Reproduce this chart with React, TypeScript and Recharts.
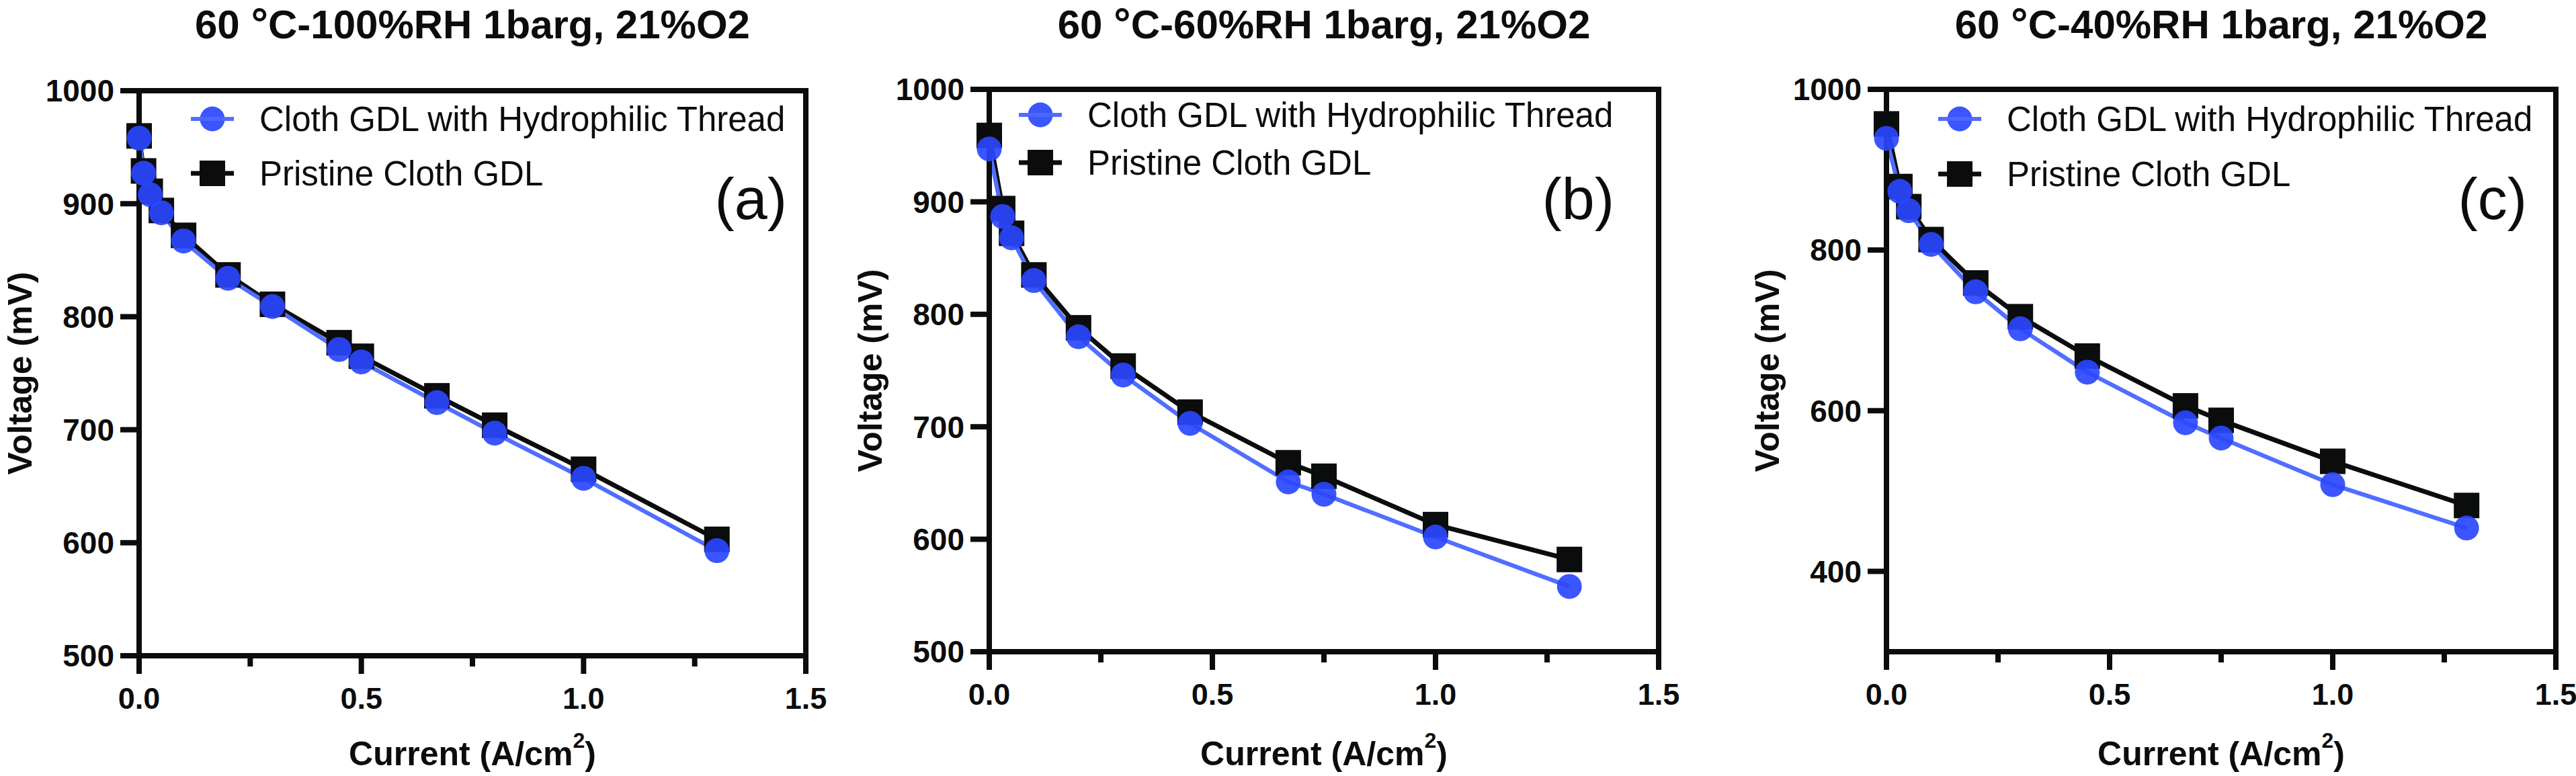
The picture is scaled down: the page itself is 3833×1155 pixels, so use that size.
import React from 'react';
import { LineChart, Line, XAxis, YAxis, ReferenceArea } from 'recharts';

const FONT = '"Liberation Sans", Arial, Helvetica, sans-serif';
const INK = '#0b0c0c';
const BLUE = '#2a46ff';
const BLUE_LINE = '#3a5cff';

// (a) 60 °C, 100 %RH
const currentA = [0, 0.01, 0.025, 0.05, 0.1, 0.2, 0.3, 0.45, 0.5, 0.67, 0.8, 1.0, 1.3];
const threadA = [958, 927, 908, 892, 867, 834, 809, 771, 760, 724, 697, 657, 593];
const pristineA = [960, 929, 911, 894, 872, 837, 811, 777, 765, 730, 704, 665, 603];

// (b) 60 °C, 60 %RH
const currentB = [0, 0.03, 0.05, 0.1, 0.2, 0.3, 0.45, 0.67, 0.75, 1.0, 1.3];
const threadB = [947, 887, 868, 830, 780, 746, 703, 651, 640, 602, 558];
const pristineB = [959, 894, 872, 835, 788, 754, 713, 668, 656, 613, 582];

// (c) 60 °C, 40 %RH
const currentC = [0, 0.03, 0.05, 0.1, 0.2, 0.3, 0.45, 0.67, 0.75, 1.0, 1.3];
const threadC = [939, 873, 849, 807, 748, 702, 648, 585, 566, 508, 454];
const pristineC = [957, 879, 854, 813, 759, 717, 668, 606, 588, 537, 482];

const xTicks = [0, 0.25, 0.5, 0.75, 1.0, 1.25, 1.5];
const yTicksAB = [500, 600, 700, 800, 900, 1000];
const yTicksC = [400, 600, 800, 1000];
const seriesNames = ['Cloth GDL with Hydrophilic Thread', 'Pristine Cloth GDL'];

const H = 1155;
const Y_AXIS_W = 120;
const X_AXIS_H = 100;

const panels = [
  {
    letter: 'a', rh: '100%RH', current: currentA, thread: threadA, pristine: pristineA,
    yDomain: [500, 1000], yTicks: yTicksAB,
    left: 0, width: 1250, plot: { l: 207, r: 1199, t: 135, b: 976 },
    legend: { x: 316, y: 177, gap: 81 }, letterRight: 1171,
  },
  {
    letter: 'b', rh: '60%RH', current: currentB, thread: threadB, pristine: pristineB,
    yDomain: [500, 1000], yTicks: yTicksAB,
    left: 1250, width: 1270, plot: { l: 1472, r: 2468, t: 133, b: 970 },
    legend: { x: 1548, y: 171, gap: 71 }, letterRight: 2402,
  },
  {
    letter: 'c', rh: '40%RH', current: currentC, thread: threadC, pristine: pristineC,
    yDomain: [300, 1000], yTicks: yTicksC,
    left: 2520, width: 1313, plot: { l: 2807, r: 3803, t: 133, b: 970 },
    legend: { x: 2916, y: 177, gap: 82 }, letterRight: 3760,
  },
];

function XTick(props: any) {
  const { x, y, payload } = props;
  const major = Math.abs((payload.value * 2) % 1) < 1e-6;
  return (
    <g>
      <line x1={x} x2={x} y1={y} y2={y + (major ? 27 : 16)} stroke={INK} strokeWidth={8} />
      {major && (
        <text x={x} y={y + 79} textAnchor="middle" fill={INK} fontSize={45} fontWeight={700} fontFamily={FONT}>
          {payload.value.toFixed(1)}
        </text>
      )}
    </g>
  );
}

function square(props: any) {
  const { cx, cy, index } = props;
  return <rect key={`sq-${index}`} x={cx - 19} y={cy - 19} width={38} height={38} fill={INK} />;
}

function Panel({ cfg }: { cfg: any }) {
  const data = cfg.current.map((c: number, i: number) => ({
    current: c,
    thread: cfg.thread[i],
    pristine: cfg.pristine[i],
  }));
  const L = cfg.plot.l - cfg.left;
  const R = cfg.plot.r - cfg.left;
  const cx = (L + R) / 2;
  const cy = (cfg.plot.t + cfg.plot.b) / 2;
  const margin = {
    top: cfg.plot.t,
    left: L - Y_AXIS_W,
    right: cfg.width - R,
    bottom: H - cfg.plot.b - X_AXIS_H,
  };
  const lx = cfg.legend.x - cfg.left;
  const ly1 = cfg.legend.y;
  const ly2 = cfg.legend.y + cfg.legend.gap;

  return (
    <div style={{ position: 'absolute', left: cfg.left, top: 0 }}>
      <LineChart width={cfg.width} height={H} data={data} margin={margin}>
        <ReferenceArea
          x1={0}
          x2={1.5}
          y1={cfg.yDomain[0]}
          y2={cfg.yDomain[1]}
          fill="none"
          stroke={INK}
          strokeWidth={8}
          ifOverflow="visible"
        />
        <XAxis
          type="number"
          dataKey="current"
          domain={[0, 1.5]}
          ticks={xTicks}
          interval={0}
          height={X_AXIS_H}
          tickSize={0}
          tickMargin={0}
          tickLine={false}
          axisLine={{ stroke: INK, strokeWidth: 8 }}
          tick={(p: any) => <XTick {...p} />}
        />
        <YAxis
          type="number"
          domain={cfg.yDomain}
          ticks={cfg.yTicks}
          interval={0}
          width={Y_AXIS_W}
          tickSize={28}
          tickMargin={9}
          tickLine={{ stroke: INK, strokeWidth: 8 }}
          axisLine={{ stroke: INK, strokeWidth: 8 }}
          tick={{ fill: INK, fontSize: 46, fontWeight: 700, fontFamily: FONT }}
        />
        <Line
          type="linear"
          dataKey="pristine"
          name={seriesNames[1]}
          stroke={INK}
          strokeWidth={7}
          strokeLinejoin="round"
          dot={square}
          activeDot={false}
          isAnimationActive={false}
        />
        <Line
          type="linear"
          dataKey="thread"
          name={seriesNames[0]}
          stroke={BLUE_LINE}
          strokeWidth={6}
          strokeLinejoin="round"
          dot={{ r: 18.5, fill: BLUE, fillOpacity: 0.92, stroke: 'none' }}
          activeDot={false}
          isAnimationActive={false}
        />
        <Line
          type="linear"
          dataKey="thread"
          stroke="#5a76ff"
          strokeOpacity={0.7}
          strokeWidth={6}
          strokeLinejoin="round"
          dot={false}
          activeDot={false}
          legendType="none"
          isAnimationActive={false}
        />

        {/* title */}
        <text x={cx} y={57} textAnchor="middle" fill={INK} fontSize={60} fontWeight={700} fontFamily={FONT}>
          60 <tspan fontSize={64}>°</tspan>C-{cfg.rh} 1barg, 21%O2
        </text>

        {/* axis titles */}
        <text
          transform={`translate(${L - 160}, ${cy}) rotate(-90)`}
          textAnchor="middle"
          fill={INK}
          fontSize={50}
          fontWeight={700}
          fontFamily={FONT}
        >
          Voltage (mV)
        </text>
        <text x={cx} y={1139} textAnchor="middle" fill={INK} fontSize={50} fontWeight={700} fontFamily={FONT}>
          Current (A/cm<tspan dy={-26} fontSize={32}>2</tspan>
          <tspan dy={26}>)</tspan>
        </text>

        {/* panel letter */}
        <text x={cfg.letterRight - cfg.left} y={326} textAnchor="end" fill={INK} fontSize={88} fontFamily={FONT}>
          ({cfg.letter})
        </text>

        {/* legend */}
        <g>
          <line x1={lx - 32} x2={lx + 32} y1={ly1} y2={ly1} stroke={BLUE_LINE} strokeWidth={6} />
          <circle cx={lx} cy={ly1} r={18.5} fill={BLUE} fillOpacity={0.92} />
          <line x1={lx - 32} x2={lx + 32} y1={ly1} y2={ly1} stroke="#5a76ff" strokeOpacity={0.7} strokeWidth={6} />
          <text x={lx + 70} y={ly1 + 18} fill={INK} fontSize={51} fontFamily={FONT}>
            {seriesNames[0]}
          </text>
          <line x1={lx - 32} x2={lx + 32} y1={ly2} y2={ly2} stroke={INK} strokeWidth={7} />
          <rect x={lx - 19} y={ly2 - 19} width={38} height={38} fill={INK} />
          <text x={lx + 70} y={ly2 + 18} fill={INK} fontSize={51} fontFamily={FONT}>
            {seriesNames[1]}
          </text>
        </g>
      </LineChart>
    </div>
  );
}

export default function App() {
  return (
    <div style={{ position: 'absolute', left: 0, top: 0, width: 3833, height: H, background: '#fff' }}>
      {panels.map((p) => (
        <Panel key={p.letter} cfg={p} />
      ))}
    </div>
  );
}
